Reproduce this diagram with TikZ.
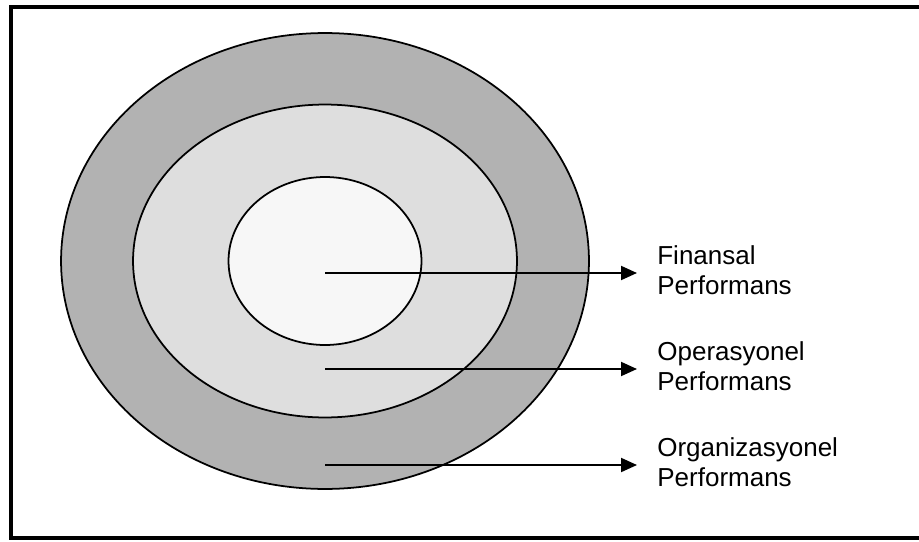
\documentclass[tikz,border=0pt]{standalone}
\usepackage{fontspec}
\setmainfont{Liberation Sans}
\usetikzlibrary{arrows.meta,shapes.geometric,positioning}

\begin{document}
\begin{tikzpicture}[x=0.02cm, y=-0.02cm, > = {Triangle[length=0.32cm,width=0.28cm]}]
            % Estilos
            \tikzstyle{layer}=[ellipse, draw, line width=1pt, inner sep=0pt]
            \tikzstyle{label}=[anchor=west, align=left, inner xsep=0.4cm, inner ysep=0pt,
                               font=\fontsize{14.8}{17.2}\selectfont]
            \tikzstyle{pointer}=[->, line width=1.1pt]

            \useasboundingbox (0,0) rectangle (919,541);
            \draw[line width=2.2pt] (11,7) rectangle (925,538);

            % Katmanlar
            \node[layer, fill=black!30, minimum width=10.56cm, minimum height=9.12cm] (org) at (325,261) {};
            \node[layer, fill=black!13, minimum width=7.68cm, minimum height=6.26cm] (ope) at (325,261) {};
            \node[layer, fill=black!3, minimum width=3.86cm, minimum height=3.36cm] (fin) at (325,261) {};

            % Ok baslangiclari
            \coordinate (s1) at (325,273);
            \coordinate (s2) at (325,369);
            \coordinate (s3) at (325,465);

            % Etiketler
            \node[label] (l1) at (637,270) {Finansal\\Performans};
            \node[label] (l2) at (637,366) {Operasyonel\\Performans};
            \node[label] (l3) at (637,462) {Organizasyonel\\Performans};

            % Oklar
            \draw[pointer] (s1) -- (s1 -| l1.west);
            \draw[pointer] (s2) -- (s2 -| l2.west);
            \draw[pointer] (s3) -- (s3 -| l3.west);
\end{tikzpicture}
\end{document}
